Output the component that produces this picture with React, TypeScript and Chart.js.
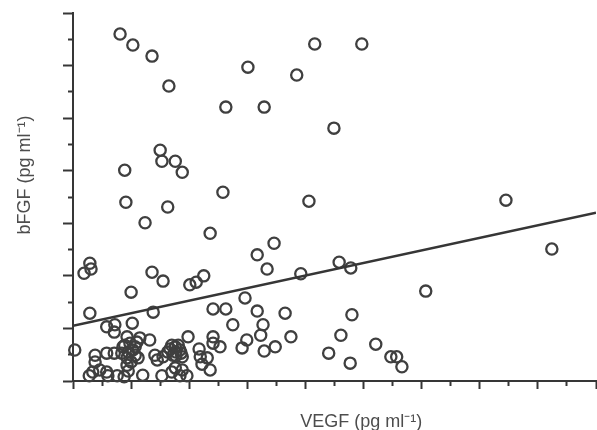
import React, { useEffect, useRef } from "react";
import { Chart, registerables } from "chart.js";

Chart.register(...registerables);

// VEGF (pg ml-1), x values
const vegf = [
  81, 103, 136, 165, 416, 497, 301, 385, 263, 329,
  449, 150, 153, 176, 188, 89, 258, 406, 745, 91,
  163, 124, 236, 346, 824, 317, 458, 29, 31, 19,
  136, 155, 334, 478, 392, 225, 212, 201, 100, 607,
  296, 241, 263, 317, 365, 29, 138, 480, 102, 58,
  72, 71, 275, 327, 323, 461, 375, 198, 132, 115,
  93, 241, 241, 253, 299, 291, 521, 348, 329, 3,
  440, 38, 38, 58, 71, 217, 219, 231, 222, 236,
  477, 547, 557, 566, 86, 98, 107, 95, 84, 93,
  93, 95, 112, 141, 145, 155, 167, 176, 184, 172,
  188, 177, 34, 28, 46, 58, 60, 76, 120, 153,
  170, 176, 188, 196, 184, 88, 170, 181, 163, 186,
  177, 103, 110, 89, 100, 107,
];

// bFGF (pg ml-1), y values
const bfgf = [
  66.0, 63.9, 61.8, 56.1, 64.1, 64.1, 59.7, 58.2, 52.1, 52.1,
  48.1, 43.9, 41.8, 41.8, 39.7, 40.1, 35.9, 34.2, 34.4, 34.0,
  33.1, 30.1, 28.1, 26.2, 25.1, 24.0, 22.6, 22.4, 21.3, 20.5,
  20.7, 19.0, 21.3, 21.5, 20.4, 20.0, 18.8, 18.3, 16.9, 17.1,
  15.8, 13.7, 13.7, 13.3, 12.9, 12.9, 13.1, 12.6, 11.0, 10.3,
  10.7, 9.3, 10.7, 10.7, 8.7, 8.7, 8.4, 8.4, 7.8, 8.2,
  8.4, 8.4, 7.2, 6.5, 7.8, 6.3, 7.0, 6.5, 5.7, 5.9,
  5.3, 4.9, 3.6, 5.3, 5.3, 6.1, 4.6, 4.4, 3.2, 2.1,
  3.4, 4.6, 4.6, 2.7, 6.5, 7.2, 6.5, 5.5, 5.3, 4.4,
  3.0, 1.9, 4.4, 4.9, 4.0, 4.6, 6.1, 6.5, 5.9, 4.9,
  4.6, 5.5, 1.7, 1.0, 2.1, 1.7, 1.0, 1.0, 1.1, 1.0,
  1.7, 2.5, 2.1, 1.0, 1.0, 0.8, 6.8, 6.8, 5.5, 5.3,
  4.8, 5.9, 7.4, 6.8, 3.6, 4.9,
];

// regression line end points
const fitX = [0, 900];
const fitY = [10.5, 32.0];

const X_TITLE = "VEGF (pg ml\u207B\u00B9)";
const Y_TITLE = "bFGF (pg ml\u207B\u00B9)";

const INK = "#363636";
const MARK = "#3f3f3f";
const TEXT = "#4d4d4d";
const FONT = '18px "Liberation Sans", Arial, sans-serif';

const titlePlugin = {
  id: "axisTitles",
  afterDraw(chart: any) {
    const { ctx, chartArea } = chart;
    ctx.save();
    ctx.fillStyle = TEXT;
    ctx.font = FONT;
    ctx.textAlign = "center";
    ctx.textBaseline = "alphabetic";
    ctx.fillText(X_TITLE, chartArea.left + chartArea.width * 0.551, chart.height - 3);
    ctx.translate(30, chartArea.top + chartArea.height * 0.44);
    ctx.rotate(-Math.PI / 2);
    ctx.fillText(Y_TITLE, 0, 0);
    ctx.restore();
  },
};

export default function App() {
  const ref = useRef<HTMLCanvasElement | null>(null);

  useEffect(() => {
    if (!ref.current) return;
    const points = vegf.map((x, i) => ({ x, y: bfgf[i] }));
    const fit = fitX.map((x, i) => ({ x, y: fitY[i] }));
    const chart = new Chart(ref.current, {
      type: "scatter",
      data: {
        datasets: [
          {
            type: "line",
            data: fit,
            borderColor: INK,
            borderWidth: 2.5,
            pointRadius: 0,
            fill: false,
          } as any,
          {
            data: points,
            pointStyle: "circle",
            pointRadius: 5.6,
            pointBorderWidth: 2.3,
            borderColor: MARK,
            backgroundColor: "rgba(0,0,0,0)",
            clip: false,
          } as any,
        ],
      },
      options: {
        animation: false,
        responsive: false,
        events: [],
        layout: { autoPadding: false, padding: { top: 13, right: 1, left: 0, bottom: 0 } },
        plugins: {
          legend: { display: false },
          tooltip: { enabled: false },
        },
        scales: {
          x: {
            type: "linear",
            min: 0,
            max: 900,
            ticks: { display: false, stepSize: 50 },
            border: { display: true, width: 2, color: INK },
            grid: {
              drawOnChartArea: false,
              drawTicks: true,
              tickLength: 8,
              tickWidth: 2,
              tickColor: INK,
              tickBorderDash: (c: any) =>
                c.tick && c.tick.value % 100 !== 0 ? [4, 50] : [],
            } as any,
            afterFit: (s: any) => {
              s.height = 49;
            },
          },
          y: {
            type: "linear",
            min: 0,
            max: 70,
            ticks: { display: false, stepSize: 5 },
            border: { display: true, width: 2, color: INK },
            grid: {
              drawOnChartArea: false,
              drawTicks: true,
              tickLength: 10,
              tickWidth: 2,
              tickColor: INK,
              tickBorderDash: (c: any) =>
                c.tick && c.tick.value % 10 !== 0 ? [0, 5, 4, 0] : [],
            } as any,
            afterFit: (s: any) => {
              s.width = 73;
            },
          },
        },
      },
      plugins: [titlePlugin],
    });
    return () => chart.destroy();
  }, []);

  return (
    <div style={{ position: "fixed", left: 0, top: 0, width: 597, height: 430, background: "#fff" }}>
      <canvas ref={ref} width={597} height={430} style={{ display: "block" }} />
    </div>
  );
}
